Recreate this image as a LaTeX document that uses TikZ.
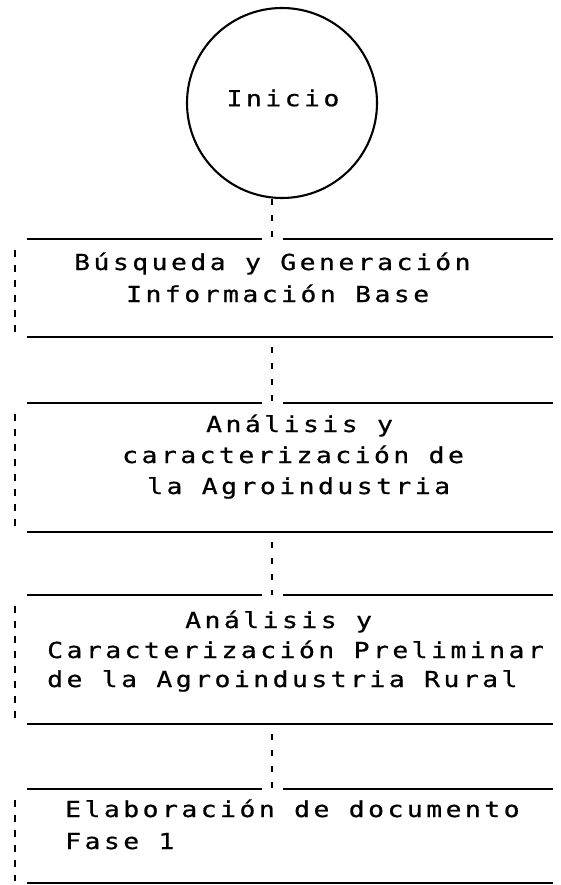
\documentclass[tikz,border=0pt]{standalone}
\usepackage{fontspec}
\newfontfamily\dotfont[FakeStretch=1.2, LetterSpace=15.8, FakeBold=0.7]{DejaVu Sans Mono}
\begin{document}
\begin{tikzpicture}[x=1pt,y=-1pt,
  txt/.style={font=\dotfont\fontsize{22}{26}\selectfont, anchor=base west, inner sep=0pt},
  rule/.style={line width=2pt},
  conn/.style={line width=2.5pt, dash pattern=on 6pt off 10pt},
  side/.style={line width=2.5pt, dash pattern=on 7pt off 8pt},
  area/.style={rectangle, draw=none, inner sep=0pt, minimum width=526pt}]
\useasboundingbox (0,0) rectangle (560,885);
% reference positions
\coordinate (axis) at (272,0);
\coordinate (gapl) at (262,0);
\coordinate (gapr) at (283,0);
\coordinate (sidex) at (15,0);
% start circle
\node[circle, draw, line width=2.1pt, minimum size=190pt, inner sep=0pt] (in) at (282,103) {};
\node[font=\dotfont\fontsize{22}{26}\selectfont, inner sep=0pt] (inlab) at (283,98) {Inicio};
% box areas
\node[area, minimum height=98pt]  (b1) at (290,288) {};
\node[area, minimum height=129pt] (b2) at (290,467.5) {};
\node[area, minimum height=129pt] (b3) at (290,659.5) {};
\node[area, minimum height=94pt]  (b4) at (290,836) {};
\foreach \bx in {b1,b2,b3,b4}{
  \draw[rule] (\bx.north west) -- (\bx.north west -| gapl)
              (\bx.north east -| gapr) -- (\bx.north east)
              (\bx.south west) -- (\bx.south east);
  \coordinate (\bx-s) at ([yshift=-11pt]\bx.north west);
  \coordinate (\bx-e) at ([yshift=2pt]\bx.south west);
  \draw[side] (\bx-s -| sidex) -- (\bx-e -| sidex);
}
% connectors
\draw[conn] (in.south -| axis) -- (b1.north -| axis);
\draw[conn, dash phase=6pt] (b1.south -| axis) -- (b2.north -| axis);
\draw[conn, dash phase=6pt] (b2.south -| axis) -- (b3.north -| axis);
\draw[conn, dash phase=6pt] (b3.south -| axis) -- (b4.north -| axis);
% texts
\node[txt] (t1a) at (74,270) {Búsqueda y Generación};
\node[txt] (t1b) at (126,302) {Información Base};
\node[txt] (t2a) at (206,432) {Análisis y};
\node[txt] (t2b) at (122,463) {caracterización de};
\node[txt] (t2c) at (147,494) {la Agroindustria};
\node[txt] (t3a) at (185,628) {Análisis y};
\node[txt] (t3b) at (47,658) {Caracterización Preliminar};
\node[txt] (t3c) at (47,687) {de la Agroindustria Rural};
\node[txt] (t4a) at (65,817) {Elaboración de documento};
\node[txt] (t4b) at (65,849) {Fase 1};
\end{tikzpicture}
\end{document}
